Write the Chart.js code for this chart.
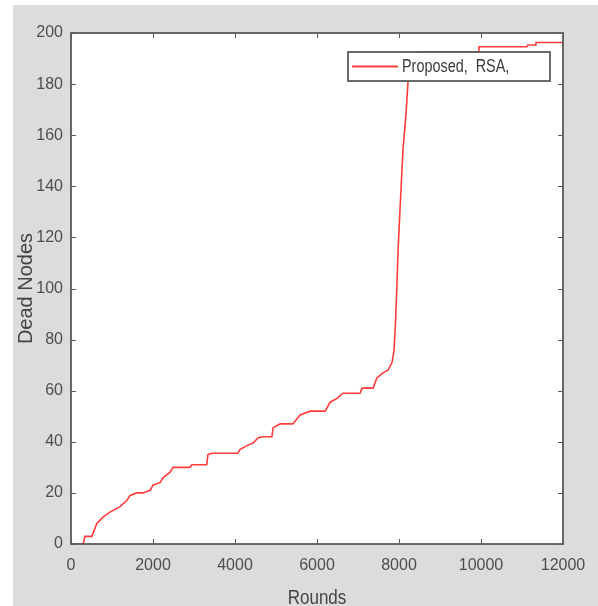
<!DOCTYPE html>
<html>
<head>
<meta charset="utf-8">
<script src="https://cdn.jsdelivr.net/npm/chart.js@4.4.1/dist/chart.umd.min.js"></script>
<style>
html,body{margin:0;padding:0;background:#fff;}
canvas{display:block;}
</style>
</head>
<body>
<canvas id="c" width="598" height="606"></canvas>
<script>
const rounds = [0, 300, 340, 510, 630, 780, 950, 1190, 1360, 1440, 1600, 1760, 1930, 2000, 2170, 2250, 2410, 2490, 2900, 2950, 3310, 3340, 3440, 4070, 4120, 4290, 4440, 4560, 4680, 4900, 4930, 5100, 5410, 5590, 5830, 6200, 6320, 6490, 6630, 7050, 7100, 7370, 7460, 7610, 7730, 7830, 7880, 7910, 7940, 7980, 8040, 8100, 8170, 8220, 8300, 8490, 9930, 9950, 11120, 11140, 11320, 11340, 12000];
const deadNodes = [0, 0, 3, 3, 8, 10.5, 12.5, 14.5, 17, 19, 20, 20, 21, 23, 24, 26, 28, 30, 30, 31, 31, 35, 35.5, 35.5, 37, 38.5, 39.5, 41.5, 42, 42, 45.5, 47, 47, 50.5, 52, 52, 55.5, 57, 59, 59, 61, 61, 65, 67, 68, 71, 76, 85, 97, 116, 136, 155, 168, 181, 188, 192.6, 192.6, 194.6, 194.6, 195.3, 195.3, 196.3, 196.3];
const xTickValues = [0, 2000, 4000, 6000, 8000, 10000, 12000];
const yTickValues = [0, 20, 40, 60, 80, 100, 120, 140, 160, 180, 200];
const seriesLabel = 'Proposed,  RSA,';
const xTitle = 'Rounds';
const yTitle = 'Dead Nodes';

const tickFont = {family: '"Liberation Sans", Arial, sans-serif', size: 16};
const axisColor = '#4e4e4e';

const frame = {
  id: 'frame',
  beforeDraw(chart) {
    const ctx = chart.ctx, a = chart.chartArea;
    ctx.save();
    ctx.fillStyle = '#ffffff';
    ctx.fillRect(0, 0, chart.width, chart.height);
    ctx.fillStyle = '#dcdcdc';
    ctx.fillRect(13, 5, chart.width - 13, chart.height - 5);
    ctx.fillStyle = '#ffffff';
    ctx.fillRect(a.left, a.top, a.right - a.left, a.bottom - a.top);
    ctx.restore();
  },
  afterDraw(chart) {
    const ctx = chart.ctx, a = chart.chartArea;
    const xs = chart.scales.x, ys = chart.scales.y;
    ctx.save();
    ctx.strokeStyle = '#5a5a5a';
    ctx.lineWidth = 1;
    ctx.beginPath();
    xTickValues.forEach(v => {
      const px = Math.round(xs.getPixelForValue(v)) + 0.5;
      ctx.moveTo(px, a.bottom); ctx.lineTo(px, a.bottom - 5);
      ctx.moveTo(px, a.top); ctx.lineTo(px, a.top + 5);
    });
    yTickValues.forEach(v => {
      const py = Math.round(ys.getPixelForValue(v)) + 0.5;
      ctx.moveTo(a.left, py); ctx.lineTo(a.left + 5, py);
      ctx.moveTo(a.right, py); ctx.lineTo(a.right - 5, py);
    });
    ctx.stroke();
    ctx.lineWidth = 1.8;
    ctx.strokeRect(a.left, a.top, a.right - a.left, a.bottom - a.top);

    // legend
    const lx = 348, ly = 52, lw = 202, lh = 29;
    ctx.fillStyle = '#ffffff';
    ctx.fillRect(lx, ly, lw, lh);
    ctx.strokeStyle = '#5a5a5a';
    ctx.lineWidth = 1.8;
    ctx.strokeRect(lx, ly, lw, lh);
    ctx.strokeStyle = chart.data.datasets[0].borderColor;
    ctx.lineWidth = 2;
    ctx.beginPath();
    ctx.moveTo(352, ly + lh / 2); ctx.lineTo(398, ly + lh / 2);
    ctx.stroke();
    ctx.fillStyle = '#3a3a3a';
    ctx.font = '18px "Liberation Sans", Arial, sans-serif';
    ctx.textBaseline = 'middle';
    ctx.save();
    ctx.translate(402, ly + lh / 2 + 1);
    ctx.scale(0.8, 1);
    ctx.fillText(chart.data.datasets[0].label, 0, 0);
    ctx.restore();

    // axis titles
    ctx.fillStyle = '#444444';
    ctx.font = '20px "Liberation Sans", Arial, sans-serif';
    ctx.textAlign = 'center';
    ctx.textBaseline = 'alphabetic';
    ctx.save();
    ctx.translate((a.left + a.right) / 2, 604);
    ctx.scale(0.85, 1);
    ctx.fillText(xTitle, 0, 0);
    ctx.restore();
    ctx.save();
    ctx.translate(32, (a.top + a.bottom) / 2);
    ctx.rotate(-Math.PI / 2);
    ctx.fillText(yTitle, 0, 0);
    ctx.restore();
    ctx.restore();
  }
};

new Chart(document.getElementById('c'), {
  type: 'line',
  data: {
    datasets: [{
      label: seriesLabel,
      data: rounds.map((r, i) => ({x: r, y: deadNodes[i]})),
      borderColor: '#ff3c3c',
      borderWidth: 1.6,
      pointRadius: 0,
      tension: 0,
      fill: false
    }]
  },
  options: {
    responsive: false,
    animation: false,
    events: [],
    layout: {padding: {top: 33, right: 35, left: 0, bottom: 0}},
    plugins: {legend: {display: false}, tooltip: {enabled: false}},
    scales: {
      x: {
        type: 'linear', min: 0, max: 12000,
        afterBuildTicks: s => { s.ticks = xTickValues.map(v => ({value: v})); },
        afterFit: s => { s.height = 62; },
        grid: {display: false, drawTicks: false},
        border: {display: false},
        ticks: {color: axisColor, font: tickFont, padding: 12, maxRotation: 0, autoSkip: false, callback: v => String(v)}
      },
      y: {
        type: 'linear', min: 0, max: 200,
        afterBuildTicks: s => { s.ticks = yTickValues.map(v => ({value: v})); },
        afterFit: s => { s.width = 71; },
        grid: {display: false, drawTicks: false},
        border: {display: false},
        ticks: {color: axisColor, font: tickFont, padding: 8, autoSkip: false, callback: v => String(v)}
      }
    }
  },
  plugins: [frame]
});
</script>
</body>
</html>
